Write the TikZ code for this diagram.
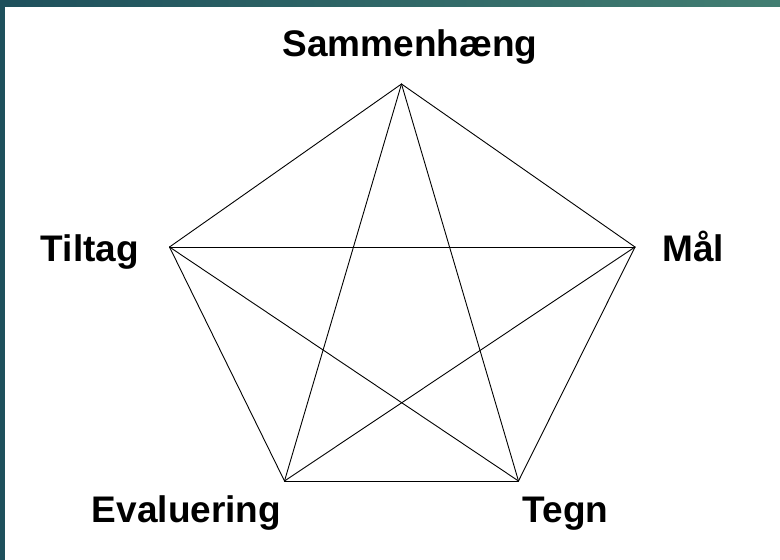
\documentclass[tikz,border=0pt]{standalone}
\usepackage{fontspec}
\setmainfont{Liberation Sans}
\definecolor{darkteal}{RGB}{30, 80, 92}
\definecolor{lightteal}{RGB}{66, 126, 114}
\usetikzlibrary{positioning}
\tikzset{
	corner/.style={font=\bfseries\fontsize{37}{42}\selectfont, inner sep=0pt, text=black},
	edge/.style={draw=black, line width=0.9pt, line cap=round, line join=round},
	band/.style={fill=darkteal},
}

\begin{document}
\begin{tikzpicture}[x=1pt, y=-1pt]
		\useasboundingbox (0,0) rectangle (780,560);
		\fill[white] (0,0) rectangle (780,560);
		\fill[band] (0,0) rectangle (5,560);
		\shade[left color=darkteal, right color=lightteal] (0,0) rectangle (780,6);
		% pentagon corners
		\coordinate (top) at (401.5,84);
		\coordinate (right) at (635,247);
		\coordinate (left) at (169.5,247);
		\coordinate (botleft) at (284.5,481);
		\coordinate (botright) at (518.5,481);
		% labels
		\node[corner, anchor=base] (sammen) at (410,56) {Sammenhæng};
		\node[corner, anchor=base west] (maal) at (662,261) {Mål};
		\node[corner, anchor=base east] (tiltag) at (139,261) {Tiltag};
		\node[corner, anchor=base] (evaluering) at (186.5,522) {Evaluering};
		\node[corner, anchor=base] (tegn) at (565.5,522) {Tegn};
		% every corner joined to every other
		\foreach \a/\b in {top/right, right/botright, botright/botleft, botleft/left, left/top,
			top/botleft, top/botright, left/right, left/botright, right/botleft}
			\draw[edge] (\a) -- (\b);
	\end{tikzpicture}
\end{document}
